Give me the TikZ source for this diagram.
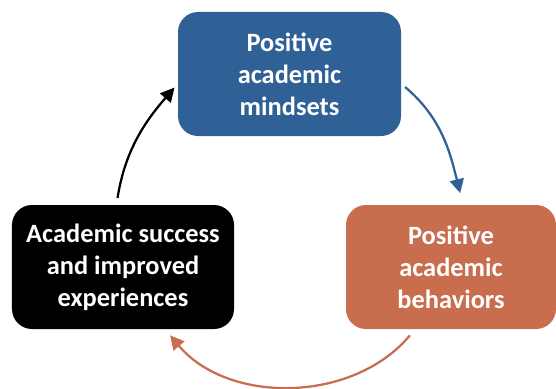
\documentclass[tikz,border=0pt]{standalone}
\usepackage{fontspec}
\setmainfont{Carlito}
\usetikzlibrary{arrows.meta}
\definecolor{mindblue}{HTML}{2F6096}
\definecolor{behavorange}{HTML}{C86D4E}
\begin{document}
\begin{tikzpicture}[x=1bp, y=1bp,
  stage/.style={rounded corners=20bp, text=white, align=center,
    font=\bfseries\fontsize{26.5}{32}\selectfont, minimum height=124bp, inner sep=0pt},
  cycle/.style={line width=2.25bp, -{Triangle[length=14bp, width=14bp]}}]
\useasboundingbox (0, 0) rectangle (556, 388);
\node [stage, fill=mindblue, minimum width=223bp] (M) at (289.5, 314) {Positive\\academic\\mindsets};
\node [stage, fill=behavorange, minimum width=210bp] (B) at (451, 121) {Positive\\academic\\behaviors};
\node [stage, fill=black, minimum width=222bp] (S) at (123, 121) {Academic success\\and improved\\experiences};
\draw [cycle, mindblue, out=-40, in=104, shorten <=5bp, shorten >=12bp] (M.-5) to (B.79);
\draw [cycle, behavorange, out=-130, in=-50, shorten <=8bp, shorten >=8bp] (B.-120) to (S.-56);
\draw [cycle, black, out=81, in=-131, shorten <=7bp, shorten >=5bp] (S.96) to (M.185);
\end{tikzpicture}
\end{document}
